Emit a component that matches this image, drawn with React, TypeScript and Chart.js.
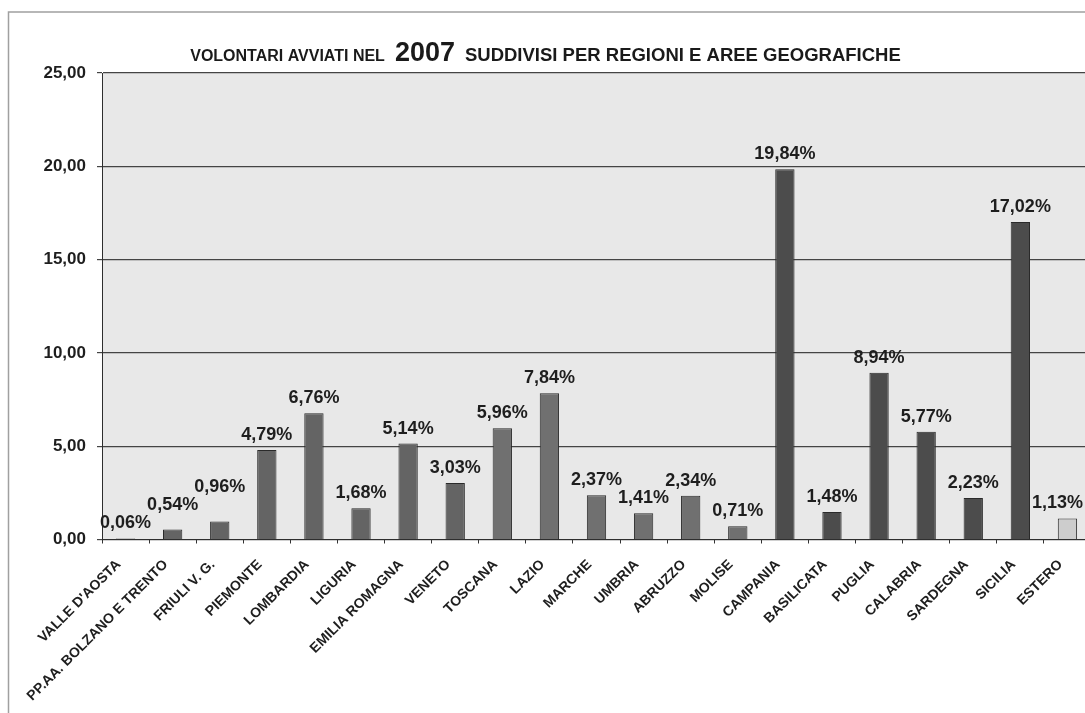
import { useEffect, useRef } from 'react';
import { Chart, registerables } from 'chart.js';

Chart.register(...registerables);

const FONT = '"Liberation Sans", Arial, Helvetica, sans-serif';
const VIEW_WIDTH = 1085;

const titleParts = ['VOLONTARI AVVIATI NEL', '2007', 'SUDDIVISI PER REGIONI E AREE GEOGRAFICHE'];

const regions = [
  "VALLE D'AOSTA",
  'PP.AA. BOLZANO E TRENTO',
  'FRIULI V. G.',
  'PIEMONTE',
  'LOMBARDIA',
  'LIGURIA',
  'EMILIA ROMAGNA',
  'VENETO',
  'TOSCANA',
  'LAZIO',
  'MARCHE',
  'UMBRIA',
  'ABRUZZO',
  'MOLISE',
  'CAMPANIA',
  'BASILICATA',
  'PUGLIA',
  'CALABRIA',
  'SARDEGNA',
  'SICILIA',
  'ESTERO',
];

const percentages = [
  0.06, 0.54, 0.96, 4.79, 6.76, 1.68, 5.14, 3.03, 5.96, 7.84, 2.37, 1.41, 2.34, 0.71, 19.84, 1.48, 8.94,
  5.77, 2.23, 17.02, 1.13,
];

const areas = [
  'nord', 'nord', 'nord', 'nord', 'nord', 'nord', 'nord', 'nord',
  'centro', 'centro', 'centro', 'centro', 'centro', 'centro',
  'sud', 'sud', 'sud', 'sud', 'sud', 'sud',
  'estero',
];

const yTicks = [0, 5, 10, 15, 20, 25];

const areaColors: Record<string, string> = {
  nord: '#646464',
  centro: '#707070',
  sud: '#4c4c4c',
  estero: '#cdcdcd',
};

const fmt = (v: number, digits: number) => v.toFixed(digits).replace('.', ',');

const backgroundPlugin = {
  id: 'pageBackground',
  beforeDraw(chart: any) {
    const { ctx, chartArea, width, height } = chart;
    ctx.save();
    ctx.fillStyle = '#ffffff';
    ctx.fillRect(0, 0, width, height);
    ctx.fillStyle = '#e8e8e8';
    ctx.fillRect(chartArea.left, chartArea.top, chartArea.right - chartArea.left, chartArea.bottom - chartArea.top);
    ctx.strokeStyle = '#a0a0a0';
    ctx.lineWidth = 1.5;
    ctx.strokeRect(8.5, 12, width + 50, height + 50);
    ctx.restore();
  },
};

const titlePlugin = {
  id: 'mixedTitle',
  afterDraw(chart: any) {
    const ctx = chart.ctx;
    ctx.save();
    const parts = [
      { text: titleParts[0], font: `bold 16px ${FONT}`, gap: 10, w: 0 },
      { text: titleParts[1], font: `bold 27px ${FONT}`, gap: 10, w: 0 },
      { text: titleParts[2], font: `bold 18.5px ${FONT}`, gap: 0, w: 0 },
    ];
    let total = 0;
    parts.forEach((p) => {
      ctx.font = p.font;
      p.w = ctx.measureText(p.text).width;
      total += p.w + p.gap;
    });
    let x = 545.5 - total / 2;
    ctx.fillStyle = '#1a1a1a';
    ctx.textAlign = 'left';
    ctx.textBaseline = 'alphabetic';
    parts.forEach((p) => {
      ctx.font = p.font;
      ctx.fillText(p.text, x, 61);
      x += p.w + p.gap;
    });
    ctx.restore();
  },
};

// Value labels above each bar; a label that would collide with its left
// neighbour is lifted just above it, and labels are kept inside the view.
const valueLabelPlugin = {
  id: 'valueLabels',
  afterDatasetsDraw(chart: any) {
    const ctx = chart.ctx;
    const meta = chart.getDatasetMeta(0);
    ctx.save();
    ctx.font = `bold 18px ${FONT}`;
    ctx.fillStyle = '#1e1e1e';
    ctx.textAlign = 'center';
    ctx.textBaseline = 'alphabetic';
    const textH = 14;
    let prev: { x: number; y: number; w: number } | null = null;
    meta.data.forEach((bar: any, i: number) => {
      const text = fmt(percentages[i], 2) + '%';
      const w = ctx.measureText(text).width;
      const x = Math.min(bar.x, VIEW_WIDTH - 2 - w / 2);
      let y = bar.y - 10;
      if (prev && Math.abs(x - prev.x) < (w + prev.w) / 2 && Math.abs(y - prev.y) < textH + 3) {
        y = prev.y - (textH + 4);
      }
      ctx.fillText(text, x, y);
      prev = { x, y, w };
    });
    ctx.restore();
  },
};

export default function App() {
  const ref = useRef<HTMLCanvasElement>(null);

  useEffect(() => {
    if (!ref.current) return;
    const chart = new Chart(ref.current, {
      type: 'bar',
      data: {
        labels: regions,
        datasets: [
          {
            data: percentages,
            backgroundColor: areas.map((a) => areaColors[a]),
            borderColor: '#2a2a2a',
            borderWidth: 1,
            categoryPercentage: 1,
            barPercentage: 0.41,
          },
        ],
      },
      options: {
        responsive: false,
        animation: false,
        layout: { padding: { left: 0, top: 73, right: 9, bottom: 0 } },
        plugins: {
          legend: { display: false },
          title: { display: false },
          tooltip: { enabled: false },
        },
        scales: {
          x: {
            type: 'category',
            offset: true,
            grid: {
              display: true,
              drawOnChartArea: false,
              drawTicks: true,
              tickLength: 4,
              color: '#333333',
              offset: true,
            },
            border: { display: true, color: '#2e2e2e', width: 1 },
            ticks: {
              autoSkip: false,
              minRotation: 45,
              maxRotation: 45,
              padding: 13,
              labelOffset: -7,
              color: '#1e1e1e',
              font: { family: FONT, size: 14, weight: 'bold' },
            },
            afterFit(scale: any) {
              scale.height = 173.5;
            },
          },
          y: {
            min: 0,
            max: 25,
            grid: {
              color: '#444444',
              lineWidth: 1.2,
              drawTicks: true,
              tickLength: 5,
            },
            border: { display: true, color: '#2e2e2e', width: 1 },
            ticks: {
              padding: 11,
              color: '#1e1e1e',
              font: { family: FONT, size: 17, weight: 'bold' },
              callback: (v: any) => fmt(Number(v), 2),
            },
            afterBuildTicks(scale: any) {
              scale.ticks = yTicks.map((v) => ({ value: v }));
            },
            afterFit(scale: any) {
              scale.width = 102;
            },
          },
        },
      },
      plugins: [backgroundPlugin, valueLabelPlugin, titlePlugin],
    });
    return () => chart.destroy();
  }, []);

  return (
    <div
      style={{
        position: 'absolute',
        left: 0,
        top: 0,
        width: VIEW_WIDTH,
        height: 713,
        overflow: 'hidden',
        background: '#ffffff',
      }}
    >
      <canvas ref={ref} width={1100} height={713} style={{ display: 'block', width: 1100, height: 713 }} />
    </div>
  );
}
